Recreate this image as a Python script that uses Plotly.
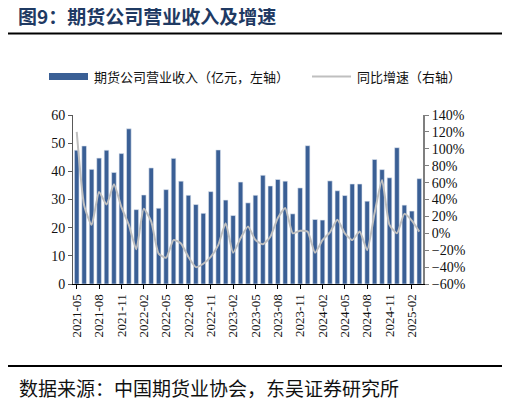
import plotly.graph_objects as go

MONTHS = [
    '2021-05', '2021-06', '2021-07', '2021-08', '2021-09', '2021-10', '2021-11', '2021-12',
    '2022-01', '2022-02', '2022-03', '2022-04', '2022-05', '2022-06', '2022-07', '2022-08',
    '2022-09', '2022-10', '2022-11', '2022-12', '2023-01', '2023-02', '2023-03', '2023-04',
    '2023-05', '2023-06', '2023-07', '2023-08', '2023-09', '2023-10', '2023-11', '2023-12',
    '2024-01', '2024-02', '2024-03', '2024-04', '2024-05', '2024-06', '2024-07', '2024-08',
    '2024-09', '2024-10', '2024-11', '2024-12', '2025-01', '2025-02', '2025-03',
]

# 期货公司营业收入（亿元）
REVENUE = [
    47.5, 49.0, 40.7, 44.7, 47.5, 39.6, 46.3, 55.1, 26.4, 31.6,
    41.2, 26.9, 33.5, 44.6, 36.5, 31.5, 28.2, 25.1, 32.8, 47.6,
    29.8, 24.3, 36.2, 28.8, 31.5, 38.6, 34.8, 37.1, 36.5, 24.9,
    34.1, 49.1, 22.9, 22.7, 36.6, 33.1, 31.4, 35.5, 35.5, 29.4,
    44.2, 40.6, 37.7, 48.4, 28.0, 25.9, 37.4,
]

# 同比增速（%）
YOY = [
    120, 33, 10, 49, 34, 58, 31, 10, -19, 29,
    14, -24, -29, -8, -12, -28, -40, -36, -28, -14,
    12, -23, -6, 8, -8, -13, -4, 18, 30, 0,
    3, 2, -23, -8, 1, 16, 0, -8, 2, -20,
    24, 63, 10, 0, 23, 15, 2,
]

TICK_MONTHS = [
    '2021-05', '2021-08', '2021-11', '2022-02', '2022-05', '2022-08', '2022-11',
    '2023-02', '2023-05', '2023-08', '2023-11', '2024-02', '2024-05', '2024-08',
    '2024-11', '2025-02',
]

BAR_COLOR = '#3A5F95'
LINE_COLOR = '#BFBFBF'
NUM_FONT = "'Liberation Serif', 'Times New Roman', serif"
CJK_FONT = 'Noto Sans CJK SC'

# the page puts the figure 8px in from the top-left corner
OFF = 8
W, H = 510 - OFF, 402 - OFF
L, R, T, B = 73 - OFF, 423 - OFF, 115 - OFF, 284 - OFF  # plot area in figure pixels


def px(x):
    return (x - OFF - L) / (R - L)


def py(y):
    return (B - (y - OFF)) / (B - T)


fig = go.Figure()
fig.add_trace(go.Bar(
    x=MONTHS, y=REVENUE, name='期货公司营业收入（亿元，左轴）',
    marker=dict(color=BAR_COLOR, line=dict(color='#dfe6f0', width=0.6)),
    yaxis='y',
))
fig.add_trace(go.Scatter(
    x=MONTHS, y=YOY, name='同比增速（右轴）', mode='lines',
    line=dict(color=LINE_COLOR, width=2, shape='spline', smoothing=0.5),
    yaxis='y2',
))

fig.update_layout(
    width=W, height=H,
    margin=dict(l=L, r=W - R, t=T, b=H - B, pad=0),
    paper_bgcolor='white', plot_bgcolor='white',
    showlegend=False,
    bargap=0.38,
    font=dict(family=NUM_FONT, size=13, color='#111111'),
    title=dict(
        text='<b>图9：期货公司营业收入及增速</b>',
        xref='container', yref='container', x=(18 - OFF) / W, y=1 - (17 - OFF) / H,
        xanchor='left', yanchor='middle',
        font=dict(family=CJK_FONT, size=19, color='#1F3A63'),
    ),
    xaxis=dict(
        type='category', tickmode='array', tickvals=TICK_MONTHS, ticktext=TICK_MONTHS,
        tickangle=-90, ticks='outside', ticklen=4, tickcolor='#000000',
        showline=True, linecolor='#000000', linewidth=1,
        showgrid=False, tickfont=dict(family=NUM_FONT, size=13),
        range=[-0.5, len(MONTHS) - 0.5],
    ),
    yaxis=dict(
        range=[0, 60], dtick=10, ticks='outside', ticklen=4, tickcolor='#595959',
        showline=True, linecolor='#595959', linewidth=1,
        showgrid=False, zeroline=False, tickfont=dict(family=NUM_FONT, size=14),
    ),
    yaxis2=dict(
        range=[-60, 140], dtick=20, ticksuffix='%', overlaying='y', side='right',
        ticks='outside', ticklen=4, tickcolor='#7F7F7F',
        showline=True, linecolor='#7F7F7F', linewidth=2,
        showgrid=False, zeroline=False, tickfont=dict(family=NUM_FONT, size=14),
    ),
)

# header / footer rules
for yy, lw in [(33.5, 2), (366, 2)]:
    fig.add_shape(type='line', xref='paper', yref='paper',
                  x0=px(5), x1=px(503), y0=py(yy), y1=py(yy),
                  line=dict(color='#000000', width=lw))

# legend drawn by hand (wide swatches)
fig.add_shape(type='rect', xref='paper', yref='paper',
              x0=px(49), x1=px(88), y0=py(80), y1=py(73),
              fillcolor=BAR_COLOR, line=dict(width=0))
fig.add_shape(type='line', xref='paper', yref='paper',
              x0=px(312), x1=px(351), y0=py(76.5), y1=py(76.5),
              line=dict(color=LINE_COLOR, width=2))
legend_font = dict(family=CJK_FONT, size=13, color='#111111')
fig.add_annotation(text='期货公司营业收入（亿元，左轴）', xref='paper', yref='paper',
                   x=px(92), y=py(76.5), xanchor='left', yanchor='middle',
                   showarrow=False, font=legend_font)
fig.add_annotation(text='同比增速（右轴）', xref='paper', yref='paper',
                   x=px(355), y=py(76.5), xanchor='left', yanchor='middle',
                   showarrow=False, font=legend_font)

fig.add_annotation(text='数据来源：中国期货业协会，东吴证券研究所', xref='paper', yref='paper',
                   x=px(17), y=py(387), xanchor='left', yanchor='middle',
                   showarrow=False, font=dict(family=CJK_FONT, size=19, color='#111111'))

fig.write_html('out.html')
